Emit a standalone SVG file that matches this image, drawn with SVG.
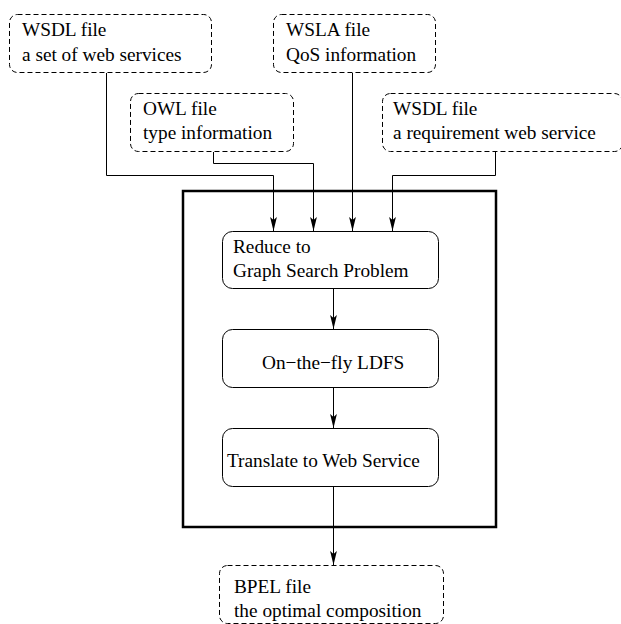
<svg xmlns="http://www.w3.org/2000/svg" width="621" height="624" viewBox="0 0 621 624">
<style>
.dash{fill:none;stroke:#000;stroke-width:1;stroke-dasharray:5,3}
.box{fill:none;stroke:#000;stroke-width:1}
.frame{fill:none;stroke:#000;stroke-width:2.5}
.edge{fill:none;stroke:#000;stroke-width:1;marker-end:url(#ah)}
.t{font-family:'Liberation Serif','Times New Roman',serif;font-size:19.3px;fill:#000}
</style>
<defs>
<marker id="ah" markerUnits="userSpaceOnUse" markerWidth="16" markerHeight="10" viewBox="0 0 16 10" refX="15" refY="5" orient="auto">
<path d="M15,5 L1,1.6 L4,5 L1,8.4 Z" fill="#000"/>
</marker>
</defs>
<rect x="0" y="0" width="621" height="624" fill="#fff"/>
<rect class="frame" x="183" y="191" width="313" height="336"/>
<g id="wsdl1">
<rect class="dash" x="9.5" y="14.5" width="202" height="58" rx="8"/>
<text class="t" x="22" y="36">WSDL file</text>
<text class="t" x="22" y="61">a set of web services</text>
</g>
<g id="wsla">
<rect class="dash" x="273.5" y="14.5" width="162" height="58" rx="8"/>
<text class="t" x="286" y="36">WSLA file</text>
<text class="t" x="286" y="61">QoS information</text>
</g>
<g id="owl">
<rect class="dash" x="130.5" y="93.5" width="163" height="58" rx="8"/>
<text class="t" x="143" y="115">OWL file</text>
<text class="t" x="143" y="139">type information</text>
</g>
<g id="wsdl2">
<rect class="dash" x="382.5" y="93.5" width="240" height="58" rx="8"/>
<text class="t" x="393" y="115">WSDL file</text>
<text class="t" x="393" y="139">a requirement web service</text>
</g>
<g id="reduce">
<rect class="box" x="222.5" y="231.5" width="216" height="57" rx="10"/>
<text class="t" x="233" y="253">Reduce to</text>
<text class="t" x="233" y="277">Graph Search Problem</text>
</g>
<g id="ldfs">
<rect class="box" x="222.5" y="329.5" width="216" height="58" rx="10"/>
<text class="t" x="262" y="369">On−the−fly LDFS</text>
</g>
<g id="translate">
<rect class="box" x="222.5" y="428.5" width="216" height="58" rx="10"/>
<text class="t" x="227" y="467">Translate to Web Service</text>
</g>
<g id="bpel">
<rect class="dash" x="219.5" y="565.5" width="224" height="58" rx="8"/>
<text class="t" x="234" y="593">BPEL file</text>
<text class="t" x="234" y="617">the optimal composition</text>
</g>
<g id="connectors">
<path class="edge" d="M106.5,73 V175.5 H273.5 V231"/>
<path class="edge" d="M213.5,152 V163.5 H313.5 V231"/>
<path class="edge" d="M352.5,73 V231"/>
<path class="edge" d="M495.5,152 V175.5 H392.5 V231"/>
<path class="edge" d="M333.5,289 V329"/>
<path class="edge" d="M333.5,388 V428"/>
<path class="edge" d="M333.5,487 V565"/>
</g>
</svg>
